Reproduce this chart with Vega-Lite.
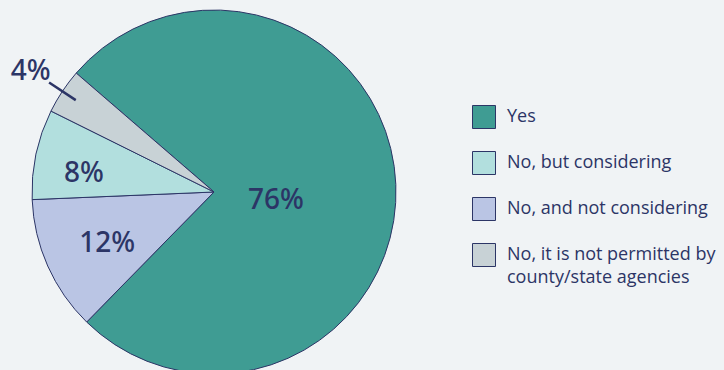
{
  "$schema": "https://vega.github.io/schema/vega-lite/v6.json",
  "autosize": {"type": "none"},
  "width": 428,
  "height": 356,
  "padding": {"left": 0, "top": 14, "right": 296, "bottom": 0},
  "background": "#f0f3f5",
  "config": {"view": {"stroke": null}, "style": {"guide-label": {"lineHeight": 23}}},
  "data": {
    "values": [
      {"cat": "Yes", "value": 76, "ord": 1, "label": "76%"},
      {"cat": "No, and not considering", "value": 12, "ord": 2, "label": "12%"},
      {"cat": "No, but considering", "value": 8, "ord": 3, "label": "8%"},
      {"cat": "No, it is not permitted by county/state agencies", "value": 4, "ord": 4, "label": "4%"}
    ]
  },
  "encoding": {
    "theta": {"field": "value", "type": "quantitative", "stack": true, "scale": {"range": [-0.8587, 5.4245]}},
    "order": {"field": "ord", "type": "quantitative"}
  },
  "layer": [
    {
      "mark": {"type": "arc", "radius": 182, "stroke": "#2c3566", "strokeWidth": 1},
      "encoding": {
        "color": {
          "field": "cat",
          "type": "nominal",
          "scale": {
            "domain": ["Yes", "No, but considering", "No, and not considering", "No, it is not permitted by county/state agencies"],
            "range": ["#3f9c93", "#b2dfde", "#bac5e4", "#c8d2d6"]
          },
          "legend": {
            "title": null,
            "orient": "none",
            "legendX": 472,
            "legendY": 91,
            "symbolType": "square",
            "symbolSize": 529,
            "symbolStrokeColor": "#2c3566",
            "symbolStrokeWidth": 1,
            "symbolOpacity": 1,
            "labelFont": "Open Sans",
            "labelFontSize": 18,
            "labelColor": "#2c3566",
            "labelOffset": 11,
            "labelLimit": 300,
            "rowPadding": 18,
            "labelExpr": "datum.label == 'No, it is not permitted by county/state agencies' ? ['No, it is not permitted by', 'county/state agencies'] : datum.label"
          }
        }
      }
    },
    {
      "mark": {"type": "arc", "padAngle": 1, "fillOpacity": 0, "stroke": "#2c3566", "strokeWidth": 2.5, "strokeCap": "round"},
      "encoding": {
        "detail": {"field": "cat"},
        "radius": {"value": 198},
        "radius2": {"value": 166},
        "strokeOpacity": {"condition": {"test": "datum.ord == 4", "value": 1}, "value": 0}
      }
    },
    {
      "mark": {"type": "text", "font": "Noto Sans", "fontSize": 28, "fontWeight": 500, "color": "#2c3566", "dy": 12},
      "encoding": {
        "detail": {"field": "cat"},
        "radius": {"value": 62},
        "text": {"field": "label"},
        "opacity": {"condition": {"test": "datum.ord == 1", "value": 1}, "value": 0}
      }
    },
    {
      "mark": {"type": "text", "font": "Noto Sans", "fontSize": 28, "fontWeight": 500, "color": "#2c3566", "dy": 4},
      "encoding": {
        "detail": {"field": "cat"},
        "radius": {"value": 117},
        "text": {"field": "label"},
        "opacity": {"condition": {"test": "datum.ord == 2", "value": 1}, "value": 0}
      }
    },
    {
      "mark": {"type": "text", "font": "Noto Sans", "fontSize": 28, "fontWeight": 500, "color": "#2c3566", "dy": 9, "dx": -3},
      "encoding": {
        "detail": {"field": "cat"},
        "radius": {"value": 130},
        "text": {"field": "label"},
        "opacity": {"condition": {"test": "datum.ord == 3", "value": 1}, "value": 0}
      }
    },
    {
      "mark": {"type": "text", "font": "Noto Sans", "fontSize": 28, "fontWeight": 500, "color": "#2c3566", "dy": 2},
      "encoding": {
        "detail": {"field": "cat"},
        "radius": {"value": 220},
        "text": {"field": "label"},
        "opacity": {"condition": {"test": "datum.ord == 4", "value": 1}, "value": 0}
      }
    }
  ]
}
